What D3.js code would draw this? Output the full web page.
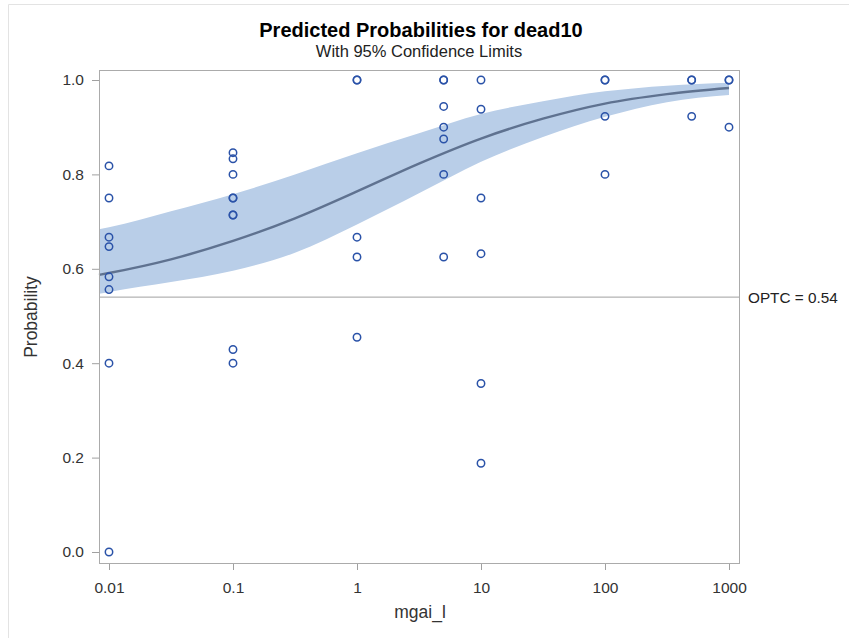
<!DOCTYPE html>
<html><head><meta charset="utf-8">
<script src="https://cdn.jsdelivr.net/npm/d3@7"></script>
<style>
body{margin:0;background:#fff;}
text{font-family:"Liberation Sans",Arial,sans-serif;}
</style></head>
<body>
<svg id="chart" width="849" height="638"></svg>
<script>
// Observed proportions (dose, probability)
const obsDose = [
  0.01,0.01,0.01,0.01,0.01,0.01,0.01,0.01,
  0.1,0.1,0.1,0.1,0.1,0.1,0.1,0.1,0.1,
  1,1,1,1,1,
  5,5,5,5,5,5,5,
  10,10,10,10,10,10,
  100,100,100,100,
  500,500,500,
  1000,1000,1000
];
const obsProb = [
  0.818,0.75,0.667,0.647,0.583,0.556,0.4,0.0,
  0.846,0.833,0.8,0.75,0.75,0.714,0.714,0.429,0.4,
  1.0,1.0,0.667,0.625,0.455,
  1.0,1.0,0.944,0.9,0.875,0.8,0.625,
  1.0,0.938,0.75,0.632,0.357,0.188,
  1.0,1.0,0.923,0.8,
  1.0,1.0,0.923,
  1.0,1.0,0.9
];
// Fitted curve with 95% limits (at half-decade steps)
const fitDose  = [0.0083,0.01,0.0316,0.1,0.316,1,3.16,10,31.6,100,316,1000];
const fitPred  = [0.587,0.591,0.620,0.659,0.707,0.764,0.823,0.876,0.918,0.950,0.970,0.983];
const fitLower = [0.547,0.551,0.572,0.596,0.634,0.694,0.760,0.827,0.879,0.922,0.953,0.968];
const fitUpper = [0.684,0.688,0.722,0.758,0.800,0.845,0.887,0.928,0.955,0.976,0.988,0.994];
const xTicks = [0.01,0.1,1,10,100,1000];
const xTickLabels = ["0.01","0.1","1","10","100","1000"];
const yTicks = [0,0.2,0.4,0.6,0.8,1.0];
const cutoff = 0.54;

const svg = d3.select("#chart");
const L = 99, R = 740, T = 70, B = 564;

// outer page border
svg.append("path").attr("d","M8.5,638 V4.5 H849").attr("fill","none").attr("stroke","#e3e3e3");

const x = d3.scaleLog().domain([0.01,1000]).range([L+10, R-11]);
const y = d3.scaleLinear().domain([0,1]).range([552,80]);

const fit = fitDose.map((d,i)=>({d, p:fitPred[i], lo:fitLower[i], hi:fitUpper[i]}));

const g = svg.append("g");
g.append("path").datum(fit)
  .attr("d", d3.area().x(d=>x(d.d)).y0(d=>y(d.lo)).y1(d=>y(d.hi)).curve(d3.curveMonotoneX))
  .attr("fill","#b9cee8");
g.append("path").datum(fit)
  .attr("d", d3.line().x(d=>x(d.d)).y(d=>y(d.p)).curve(d3.curveMonotoneX))
  .attr("fill","none").attr("stroke","#5f7290").attr("stroke-width",2.4);

// cutoff line
g.append("line").attr("x1",L).attr("x2",R).attr("y1",y(cutoff)).attr("y2",y(cutoff))
  .attr("stroke","#a0a0a0").attr("stroke-width",1);
svg.append("text").attr("x",R+8).attr("y",y(cutoff)+5.5)
  .attr("font-size",15.3).attr("fill","#222").text("OPTC = " + cutoff);

// points
g.selectAll("circle.obs").data(obsDose.map((d,i)=>({d,p:obsProb[i]}))).join("circle")
  .attr("class","obs").attr("cx",d=>x(d.d)).attr("cy",d=>y(d.p)).attr("r",3.7)
  .attr("fill","none").attr("stroke","#2a52a8").attr("stroke-width",1.5);

// frame
svg.append("rect").attr("x",L+0.5).attr("y",T+0.5).attr("width",R-L-1).attr("height",B-T-1)
  .attr("fill","none").attr("stroke","#ababab").attr("stroke-width",1);

// axes
const xAxis = d3.axisBottom(x).tickValues(xTicks).tickFormat((d,i)=>xTickLabels[i]).tickSizeOuter(0).tickSize(6).tickPadding(12);
const xa = svg.append("g").attr("transform",`translate(0,${B})`).call(xAxis);
xa.select(".domain").remove();
xa.selectAll("line").attr("stroke","#a0a0a0");
xa.selectAll("text").attr("font-size",15.5).attr("fill","#333").attr("font-family","Liberation Sans, Arial, sans-serif");

const yAxis = d3.axisLeft(y).tickValues(yTicks).tickFormat(d3.format(".1f")).tickSizeOuter(0).tickSize(7).tickPadding(8);
const ya = svg.append("g").attr("transform",`translate(${L},0)`).call(yAxis);
ya.select(".domain").remove();
ya.selectAll("line").attr("stroke","#a0a0a0");
ya.selectAll("text").attr("font-size",15.5).attr("fill","#333").attr("font-family","Liberation Sans, Arial, sans-serif");

// titles
svg.append("text").attr("x",421).attr("y",37).attr("text-anchor","middle")
  .attr("font-size",20).attr("font-weight","bold").attr("fill","#000").text("Predicted Probabilities for dead10");
svg.append("text").attr("x",419).attr("y",57).attr("text-anchor","middle")
  .attr("font-size",16.5).attr("fill","#222").text("With 95% Confidence Limits");
svg.append("text").attr("x",420).attr("y",618).attr("text-anchor","middle")
  .attr("font-size",17.5).attr("fill","#333").text("mgai_l");
svg.append("text").attr("transform","translate(37,317) rotate(-90)").attr("text-anchor","middle")
  .attr("font-size",17.5).attr("fill","#333").text("Probability");
</script>
</body></html>
